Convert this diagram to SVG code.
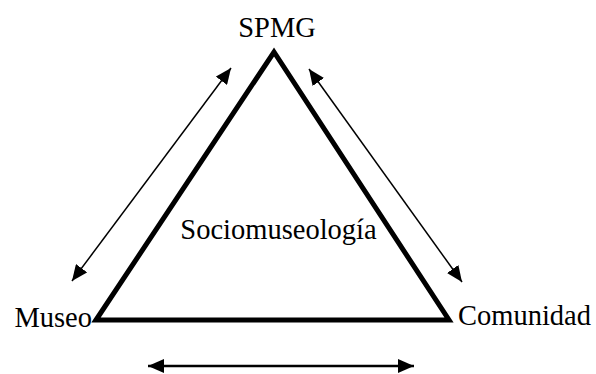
<svg xmlns="http://www.w3.org/2000/svg" width="596" height="374" viewBox="0 0 596 374">
<style>
text{font-family:"Liberation Serif","Times New Roman",serif;font-size:28.5px;fill:#000}
.arr{stroke:#000;stroke-width:1.5;fill:none;marker-start:url(#ah);marker-end:url(#ah)}
</style>
<defs>
<marker id="ah" viewBox="0 0 10 10" refX="10" refY="5" markerWidth="10" markerHeight="9" markerUnits="userSpaceOnUse" orient="auto-start-reverse">
<path d="M0,0 L10,5 L0,10 z" fill="#000"/>
</marker>
</defs>
<rect width="596" height="374" fill="#fff"/>
<g id="triangle">
<polygon points="96,320 274,52 449,320" fill="none" stroke="#000" stroke-width="5" stroke-linejoin="miter" stroke-miterlimit="10"/>
<text x="278.5" y="239" text-anchor="middle">Sociomuseología</text>
</g>
<g id="spmg"><text x="277" y="37" text-anchor="middle">SPMG</text></g>
<g id="museo"><text x="92" y="327" text-anchor="end">Museo</text></g>
<g id="comunidad"><text x="458" y="325">Comunidad</text></g>
<g id="connectors">
<line class="arr" x1="72" y1="281" x2="231" y2="68" style="stroke-width:1.5;marker-start:url(#ah2);marker-end:url(#ah2)"/>
<line class="arr" x1="309" y1="69" x2="462" y2="282" style="marker-start:url(#ah2);marker-end:url(#ah2)"/>
<line class="arr" x1="148" y1="366" x2="414" y2="366" style="stroke-width:2.5;marker-start:url(#ah2);marker-end:url(#ah2)"/>
</g>
<defs>
<marker id="ah2" viewBox="0 0 16 14" refX="16" refY="7" markerWidth="16" markerHeight="14" markerUnits="userSpaceOnUse" orient="auto-start-reverse">
<path d="M0,0 L16,7 L0,14 z" fill="#000"/>
</marker>
</defs>
</svg>
